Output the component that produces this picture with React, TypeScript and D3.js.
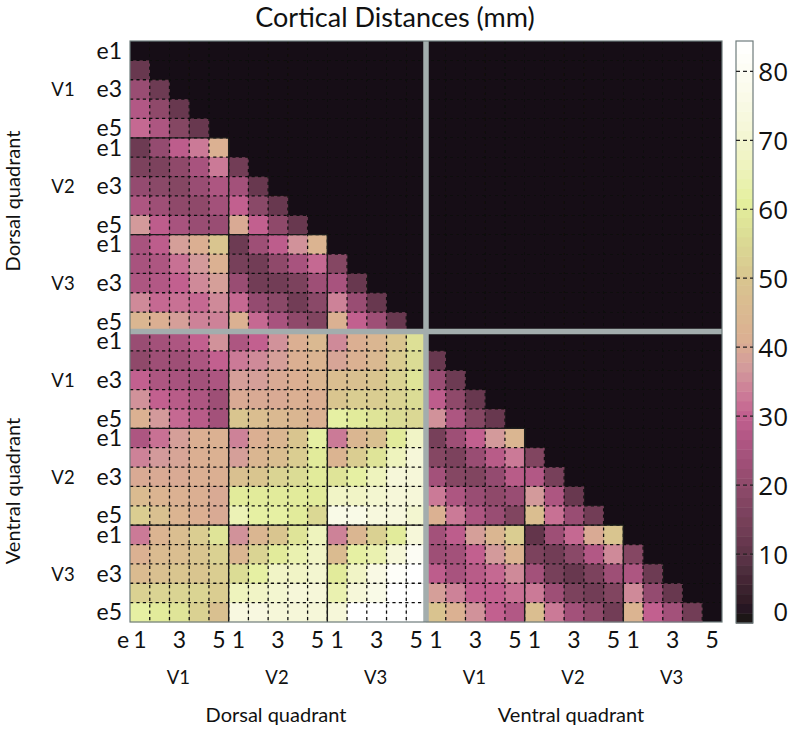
import React from "react";
import * as d3 from "d3";

const title = "Cortical Distances (mm)";
const rowsUpperLeft: number[][] = [
  [],
  [12],
  [22, 13],
  [27, 20, 12],
  [31, 26, 18, 12],
  [13, 21, 29, 33, 42],
  [16, 16, 20, 25, 33, 14],
  [21, 19, 18, 22, 26, 24, 12],
  [26, 23, 20, 20, 24, 30, 19, 12],
  [37, 29, 25, 22, 22, 40, 30, 20, 12],
  [25, 29, 38, 41, 50, 13, 23, 29, 36, 43],
  [25, 26, 32, 37, 42, 15, 14, 20, 25, 31, 18],
  [26, 27, 30, 35, 38, 22, 14, 14, 16, 23, 25, 12],
  [35, 31, 32, 31, 35, 31, 21, 19, 14, 19, 34, 22, 12],
  [44, 41, 38, 34, 34, 42, 31, 25, 20, 17, 42, 30, 23, 12],
];
const rowsLowerLeft: number[][] = [
  [22, 24, 26, 30, 36, 26, 30, 36, 41, 45, 35, 41, 44, 50, 57],
  [20, 23, 23, 26, 30, 33, 35, 38, 41, 43, 39, 42, 45, 52, 56],
  [30, 26, 25, 24, 26, 38, 38, 40, 41, 44, 47, 48, 50, 54, 58],
  [36, 30, 28, 26, 23, 40, 40, 40, 41, 41, 50, 52, 52, 54, 56],
  [42, 37, 31, 28, 24, 50, 47, 45, 44, 42, 62, 60, 58, 56, 55],
  [26, 32, 38, 41, 42, 34, 41, 44, 50, 62, 33, 44, 48, 60, 68],
  [34, 37, 39, 41, 42, 38, 44, 47, 52, 60, 43, 52, 58, 66, 72],
  [40, 40, 40, 41, 41, 48, 50, 54, 56, 60, 58, 62, 66, 72, 72],
  [46, 43, 42, 41, 40, 60, 60, 60, 60, 60, 68, 68, 70, 72, 72],
  [52, 48, 43, 41, 40, 65, 62, 62, 60, 55, 76, 76, 73, 73, 70],
  [33, 43, 47, 52, 58, 36, 44, 50, 58, 66, 34, 44, 53, 60, 72],
  [42, 46, 47, 50, 53, 44, 54, 60, 64, 68, 46, 62, 64, 72, 80],
  [46, 48, 50, 50, 52, 56, 62, 68, 68, 70, 60, 68, 75, 82, 84],
  [53, 54, 54, 54, 52, 66, 68, 70, 72, 72, 64, 72, 76, 84, 84],
  [62, 60, 58, 53, 48, 74, 74, 72, 72, 72, 72, 84, 84, 84, 84],
];
const rowsLowerRight: number[][] = [
  [],
  [12],
  [22, 13],
  [29, 20, 12],
  [36, 26, 18, 12],
  [15, 23, 30, 37, 44],
  [18, 16, 22, 28, 33, 17],
  [24, 18, 17, 21, 28, 27, 15],
  [33, 26, 22, 20, 22, 37, 26, 12],
  [42, 33, 26, 22, 17, 47, 32, 22, 14],
  [24, 29, 38, 44, 52, 11, 23, 31, 40, 50],
  [23, 24, 30, 37, 43, 16, 14, 19, 27, 35, 18],
  [29, 25, 28, 31, 35, 24, 15, 12, 16, 23, 26, 13],
  [38, 34, 30, 30, 32, 33, 23, 16, 14, 17, 35, 21, 12],
  [49, 42, 36, 30, 27, 47, 33, 24, 20, 14, 43, 30, 24, 14],
];
const colorStops: [number, string][] = [
  [0, "#151014"],
  [5, "#3b2430"],
  [10, "#5e3448"],
  [15, "#77405a"],
  [20, "#8f4a6b"],
  [25, "#a8537e"],
  [30, "#c2608f"],
  [33, "#cb7a97"],
  [37, "#d39a9b"],
  [41, "#dbaf92"],
  [50, "#d9c58f"],
  [56, "#dbdc95"],
  [61, "#e4ef9c"],
  [66, "#eef3bd"],
  [72, "#f6f7d9"],
  [78, "#fbfbee"],
  [84, "#ffffff"],
];
const colorbarTicks = [0, 10, 20, 30, 40, 50, 60, 70, 80];
const yTickLabels = ["e1", "e3", "e5"];
const xTickLabels = ["1", "3", "5"];
const areaLabels = ["V1", "V2", "V3"];

const N = 30;
const X0 = 130, X1 = 722, Y0 = 41, Y1 = 622;
const SANS = "Lato, 'Open Sans', sans-serif";
const TICKF = "'Open Sans', sans-serif";

export default function App() {
  const x = d3.scaleLinear().domain([0, N]).range([X0, X1]);
  const y = d3.scaleLinear().domain([0, N]).range([Y0, Y1]);
  const color = d3
    .scaleLinear<string>()
    .domain(colorStops.map((d) => d[0]))
    .range(colorStops.map((d) => d[1]))
    .interpolate(d3.interpolateRgb)
    .clamp(true);
  const cb = d3.scaleLinear().domain([0, 84.4]).range([623, 41]);

  const cells: { r: number; c: number; v: number }[] = [];
  rowsUpperLeft.forEach((row, r) => row.forEach((v, c) => cells.push({ r, c, v })));
  rowsLowerLeft.forEach((row, i) => row.forEach((v, c) => cells.push({ r: 15 + i, c, v })));
  rowsLowerRight.forEach((row, i) =>
    row.forEach((v, j) => cells.push({ r: 15 + i, c: 15 + j, v }))
  );

  const barLevels = d3.range(0, 84.4, 1.4);
  const gridIdx = d3.range(1, N);
  const solidX = [5, 10, 20, 25];
  const solidY = [5, 10, 20, 25];

  const blocks = [0, 1, 2, 3, 4, 5];
  return (
    <svg
      width={792}
      height={732}
      style={{ position: "absolute", left: 0, top: 0, background: "#fff" }}
    >
      <defs>
        <filter id="soft" x="-2%" y="-2%" width="104%" height="104%">
          <feGaussianBlur stdDeviation="0.55" />
        </filter>
      </defs>
      <text x={395} y={27} textAnchor="middle" fontFamily={SANS} fontSize={27} fill="#111">
        {title}
      </text>

      <g filter="url(#soft)">
        <rect x={X0} y={Y0} width={X1 - X0} height={Y1 - Y0} fill={colorStops[0][1]} />
        {cells.map((d) => (
          <rect
            key={`${d.r}-${d.c}`}
            x={x(d.c)}
            y={y(d.r)}
            width={x(1) - x(0) + 0.3}
            height={y(1) - y(0) + 0.3}
            fill={color(d.v)}
          />
        ))}
        {gridIdx.map((i) => (
          <line
            key={`gv${i}`}
            x1={x(i)}
            x2={x(i)}
            y1={Y0}
            y2={Y1}
            stroke="#111"
            strokeWidth={1.3}
            strokeDasharray="3.2 3.2"
          />
        ))}
        {gridIdx.map((i) => (
          <line
            key={`gh${i}`}
            x1={X0}
            x2={X1}
            y1={y(i)}
            y2={y(i)}
            stroke="#111"
            strokeWidth={1.3}
            strokeDasharray="3.2 3.2"
          />
        ))}
        {solidX.map((i) => (
          <line key={`sv${i}`} x1={x(i)} x2={x(i)} y1={y(i)} y2={Y1} stroke="#1a1a1a" strokeWidth={1.4} />
        ))}
        {solidY.map((i) => (
          <line key={`sh${i}`} x1={i > 15 ? x(0) : X0} x2={x(i)} y1={y(i)} y2={y(i)} stroke="#1a1a1a" strokeWidth={1.4} />
        ))}
        <line x1={x(15)} x2={x(15)} y1={Y0} y2={Y1} stroke="#a3adad" strokeWidth={5.5} />
        <line x1={X0} x2={X1} y1={y(15)} y2={y(15)} stroke="#a3adad" strokeWidth={5.5} />
        <rect x={X0} y={Y0} width={X1 - X0} height={Y1 - Y0} fill="none" stroke="#6f7c7c" strokeWidth={1.2} />
      </g>

      {/* y tick labels */}
      {blocks.map((b) =>
        yTickLabels.map((t, k) => (
          <text
            key={`yt${b}-${k}`}
            x={122}
            y={y(b * 5 + k * 2 + 0.5) + (b >= 3 ? 8 : 8)}
            textAnchor="end"
            fontFamily={SANS}
            fontSize={23}
            fill="#111"
          >
            {t}
          </text>
        ))
      )}
      {/* x tick labels */}
      {blocks.map((b) =>
        xTickLabels.map((t, k) => (
          <text
            key={`xt${b}-${k}`}
            x={x(b * 5 + k * 2 + 0.5)}
            y={648}
            textAnchor="middle"
            fontFamily={SANS}
            fontSize={23}
            fill="#111"
          >
            {t}
          </text>
        ))
      )}
      <text x={123} y={648} textAnchor="middle" fontFamily={SANS} fontSize={23} fill="#111">
        e
      </text>

      {/* area labels */}
      {blocks.map((b) => (
        <text
          key={`ax${b}`}
          x={x(b * 5 + 2.5) - 1}
          y={684}
          textAnchor="middle"
          fontFamily={SANS}
          fontSize={18.5}
          fill="#111"
        >
          {areaLabels[b % 3]}
        </text>
      ))}
      {blocks.map((b) => (
        <text
          key={`ay${b}`}
          x={63}
          y={y(b * 5 + 2.5) + 7}
          textAnchor="middle"
          fontFamily={SANS}
          fontSize={18.5}
          fill="#111"
        >
          {areaLabels[b % 3]}
        </text>
      ))}

      {/* quadrant labels */}
      <text x={276} y={722} textAnchor="middle" fontFamily={SANS} fontSize={20} fill="#111">
        Dorsal quadrant
      </text>
      <text x={571} y={722} textAnchor="middle" fontFamily={SANS} fontSize={20} fill="#111">
        Ventral quadrant
      </text>
      <text
        transform="translate(20,201) rotate(-90)"
        textAnchor="middle"
        fontFamily={SANS}
        fontSize={20}
        fill="#111"
      >
        Dorsal quadrant
      </text>
      <text
        transform="translate(20,491) rotate(-90)"
        textAnchor="middle"
        fontFamily={SANS}
        fontSize={20}
        fill="#111"
      >
        Ventral quadrant
      </text>

      {/* colorbar */}
      <g filter="url(#soft)">
        {barLevels.map((v) => (
          <rect
            key={`cb${v}`}
            x={736}
            y={cb(v + 1.4)}
            width={17}
            height={cb(v) - cb(v + 1.4) + 0.5}
            fill={color(v + 0.7)}
          />
        ))}
        <rect x={736} y={41} width={17} height={582} fill="none" stroke="#6f7c7c" strokeWidth={1.2} />
        {colorbarTicks.filter((t) => t > 0).map((t) => (
          <line
            key={`cbt${t}`}
            x1={736}
            x2={753}
            y1={cb(t)}
            y2={cb(t)}
            stroke="#222"
            strokeWidth={1.2}
            strokeDasharray="4 3"
          />
        ))}
      </g>
      {colorbarTicks.map((t) => (
        <text
          key={`cbl${t}`}
          x={788}
          y={cb(t) + (t === 0 ? -2 : 10)}
          textAnchor="end"
          fontFamily={TICKF}
          fontSize={26}
          fill="#111"
        >
          {t}
        </text>
      ))}
    </svg>
  );
}
